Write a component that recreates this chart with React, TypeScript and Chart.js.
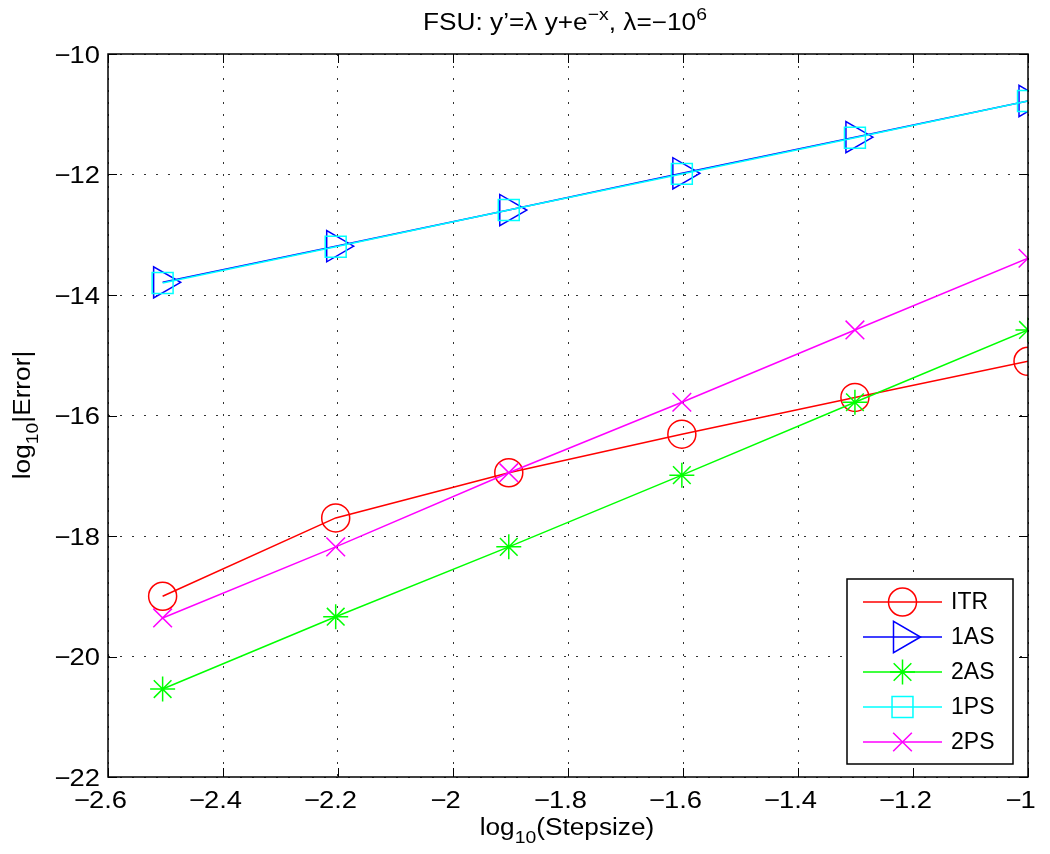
import React, { useEffect, useRef } from 'react';
import { Chart, registerables } from 'chart.js';
import { drawPoint } from 'chart.js/helpers';

Chart.register(...registerables);

// log10(Stepsize) for h = 1/320 ... 1/10
const stepLog = [-2.505, -2.204, -1.903, -1.602, -1.301, -1.0];
const itrErr = [-19.0, -17.7, -16.95, -16.31, -15.7, -15.1];
const as1Err = [-13.79, -13.19, -12.59, -11.98, -11.38, -10.78];
const as2Err = [-20.54, -19.34, -18.18, -16.99, -15.78, -14.58];
const ps1Err = [-13.8, -13.2, -12.59, -11.99, -11.39, -10.78];
const ps2Err = [-19.36, -18.18, -16.95, -15.78, -14.58, -13.39];

const seriesNames = ['ITR', '1AS', '2AS', '1PS', '2PS'];
const xTickValues = [-2.6, -2.4, -2.2, -2.0, -1.8, -1.6, -1.4, -1.2, -1.0];
const yTickValues = [-22, -20, -18, -16, -14, -12, -10];

const FONT = '"Liberation Sans", Arial, Helvetica, sans-serif';
const SX = 1.14; // horizontal stretch of the reference's text

type Seg = { t: string; s?: 'sup' | 'sub' };

const styles = [
  { color: '#ff0000', pointStyle: 'circle', radius: 14, rotation: 0 },
  { color: '#0000ff', pointStyle: 'triangle', radius: 18, rotation: 90 },
  { color: '#00ff00', pointStyle: 'star', radius: 12.5, rotation: 0 },
  { color: '#00ffff', pointStyle: 'rect', radius: 14.8, rotation: 0 },
  { color: '#ff00ff', pointStyle: 'crossRot', radius: 13.2, rotation: 0 },
];

const absStr = (v: number) => String(Math.abs(Math.round(v * 10) / 10));

function textW(ctx: CanvasRenderingContext2D, t: string, size: number) {
  ctx.font = `${size}px ${FONT}`;
  return ctx.measureText(t).width * SX;
}

function drawStretched(ctx: CanvasRenderingContext2D, t: string, x: number, y: number, size: number) {
  ctx.save();
  ctx.font = `${size}px ${FONT}`;
  ctx.textAlign = 'left';
  ctx.translate(x, y);
  ctx.scale(SX, 1);
  ctx.fillText(t, 0, 0);
  ctx.restore();
}

function drawRich(ctx: CanvasRenderingContext2D, segs: Seg[], cx: number, baseline: number, main: number, small: number) {
  let w = 0;
  for (const s of segs) w += textW(ctx, s.t, s.s ? small : main);
  let x = cx - w / 2;
  ctx.textBaseline = 'alphabetic';
  ctx.fillStyle = '#000';
  for (const s of segs) {
    const size = s.s ? small : main;
    const dy = s.s === 'sup' ? -10 : s.s === 'sub' ? 8 : 0;
    drawStretched(ctx, s.t, x, baseline + dy, size);
    x += textW(ctx, s.t, size);
  }
}

const overlay = {
  id: 'overlay',
  afterDraw(chart: any) {
    const { ctx, chartArea: a, scales } = chart;
    ctx.save();
    // inward ticks
    ctx.strokeStyle = '#000';
    ctx.lineWidth = 1;
    ctx.setLineDash([]);
    ctx.beginPath();
    xTickValues.forEach((v) => {
      const px = Math.round(scales.x.getPixelForValue(v)) + 0.5;
      ctx.moveTo(px, a.bottom);
      ctx.lineTo(px, a.bottom - 9);
      ctx.moveTo(px, a.top);
      ctx.lineTo(px, a.top + 9);
    });
    yTickValues.forEach((v) => {
      const py = Math.round(scales.y.getPixelForValue(v)) + 0.5;
      ctx.moveTo(a.left, py);
      ctx.lineTo(a.left + 9, py);
      ctx.moveTo(a.right, py);
      ctx.lineTo(a.right - 9, py);
    });
    ctx.stroke();
    // box
    ctx.lineWidth = 1.5;
    ctx.strokeRect(a.left, a.top, a.right - a.left, a.bottom - a.top);

    // tick labels (MATLAB style: the number without its sign is centred)
    ctx.fillStyle = '#000';
    ctx.textBaseline = 'alphabetic';
    const TS = 24;
    const minusW = textW(ctx, '\u2212', TS);
    xTickValues.forEach((v) => {
      const px = scales.x.getPixelForValue(v);
      const s = absStr(v);
      const w = textW(ctx, s, TS);
      const x0 = px - w / 2;
      drawStretched(ctx, s, x0, 808, TS);
      if (v < 0) drawStretched(ctx, '\u2212', x0 - minusW + 1, 808, TS);
    });
    yTickValues.forEach((v) => {
      const py = scales.y.getPixelForValue(v);
      const s = absStr(v);
      const w = textW(ctx, s, TS);
      const x0 = 100 - w;
      drawStretched(ctx, s, x0, py + 8.5, TS);
      if (v < 0) drawStretched(ctx, '\u2212', x0 - minusW + 1, py + 8.5, TS);
    });

    // legend
    const lx = 847, ly = 579, lw = 166, lh = 185;
    ctx.fillStyle = '#fff';
    ctx.fillRect(lx, ly, lw, lh);
    ctx.lineWidth = 1.5;
    ctx.strokeStyle = '#000';
    ctx.strokeRect(lx, ly, lw, lh);
    seriesNames.forEach((name, i) => {
      const st = styles[i];
      const y = 602 + i * 35;
      ctx.strokeStyle = st.color;
      ctx.lineWidth = 1.5;
      ctx.beginPath();
      ctx.moveTo(863, y);
      ctx.lineTo(942, y);
      ctx.stroke();
      ctx.fillStyle = 'rgba(0,0,0,0)';
      drawPoint(ctx, { pointStyle: st.pointStyle as any, radius: st.radius, rotation: st.rotation, borderWidth: 1.5 }, 902.5, y);
      ctx.fillStyle = '#000';
      ctx.font = `23px ${FONT}`;
      ctx.textAlign = 'left';
      ctx.textBaseline = 'middle';
      ctx.fillText(name, 951, y + 1);
    });

    // title
    drawRich(
      ctx,
      [{ t: 'FSU: y\u2019=\u03bb y+e' }, { t: '\u2212x', s: 'sup' }, { t: ', \u03bb=\u221210' }, { t: '6', s: 'sup' }],
      565,
      30,
      23,
      17
    );
    // x label
    drawRich(ctx, [{ t: 'log' }, { t: '10', s: 'sub' }, { t: '(Stepsize)' }], 567, 835, 23, 17);
    // y label
    ctx.save();
    ctx.translate(30, 415);
    ctx.rotate(-Math.PI / 2);
    drawRich(ctx, [{ t: 'log' }, { t: '10', s: 'sub' }, { t: '|Error|' }], 0, 0, 23, 17);
    ctx.restore();

    ctx.restore();
  },
};

export default function App() {
  const ref = useRef<HTMLCanvasElement>(null);
  useEffect(() => {
    if (!ref.current) return;
    const all = [itrErr, as1Err, as2Err, ps1Err, ps2Err];
    const chart = new Chart(ref.current, {
      type: 'line',
      data: {
        datasets: all.map((vals, i) => ({
          label: seriesNames[i],
          data: vals.map((v, j) => ({ x: stepLog[j], y: v })),
          borderColor: styles[i].color,
          backgroundColor: 'rgba(0,0,0,0)',
          pointBorderColor: styles[i].color,
          pointBackgroundColor: 'rgba(0,0,0,0)',
          pointStyle: styles[i].pointStyle as any,
          pointRadius: styles[i].radius,
          pointRotation: styles[i].rotation,
          pointBorderWidth: 1.5,
          borderWidth: 1.5,
          tension: 0,
          fill: false,
          order: 5 - i,
        })),
      },
      options: {
        animation: false,
        responsive: false,
        events: [],
        layout: { padding: { top: 54, right: 22, left: 0, bottom: 0 } },
        plugins: { legend: { display: false }, title: { display: false }, tooltip: { enabled: false } },
        scales: {
          x: {
            type: 'linear',
            min: -2.6,
            max: -1,
            afterBuildTicks: (s: any) => {
              s.ticks = xTickValues.map((v) => ({ value: v }));
            },
            afterFit: (s: any) => {
              s.height = 77;
            },
            ticks: { display: false, autoSkip: false },
            grid: { color: '#333', lineWidth: 1, drawTicks: false },
            border: { display: false, dash: [2, 10] },
          },
          y: {
            type: 'linear',
            min: -22,
            max: -10,
            afterBuildTicks: (s: any) => {
              s.ticks = yTickValues.map((v) => ({ value: v }));
            },
            afterFit: (s: any) => {
              s.width = 108;
            },
            ticks: { display: false, autoSkip: false },
            grid: { color: '#333', lineWidth: 1, drawTicks: false },
            border: { display: false, dash: [2, 10] },
          },
        },
      },
      plugins: [overlay],
    });
    return () => chart.destroy();
  }, []);
  return (
    <div style={{ position: 'absolute', left: 0, top: 0, width: 1050, height: 854, background: '#fff' }}>
      <canvas ref={ref} width={1050} height={854} style={{ display: 'block' }} />
    </div>
  );
}
